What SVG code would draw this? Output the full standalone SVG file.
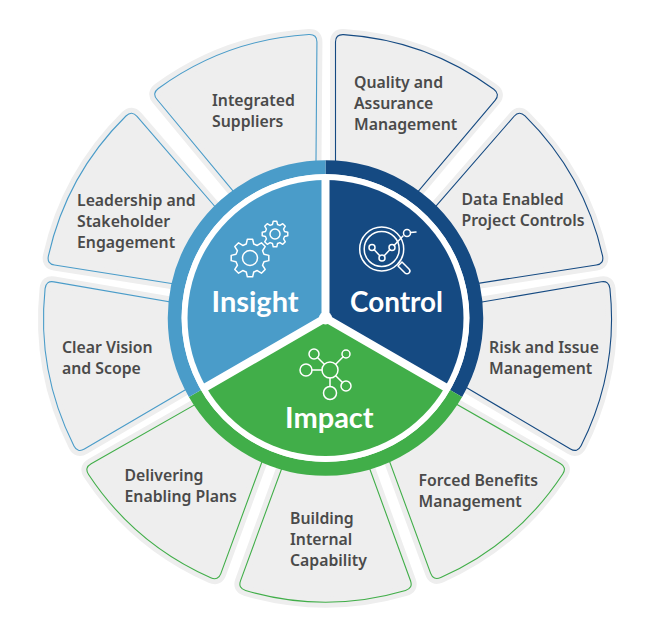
<svg xmlns="http://www.w3.org/2000/svg" xmlns:xlink="http://www.w3.org/1999/xlink" width="650" height="639" viewBox="0 0 650 639">
<style>
.halo{fill:#eeeeee;stroke:#eeeeee;stroke-width:11;stroke-linejoin:round}
.line{fill:none;stroke-width:1.1}
.b{stroke:#4a9cc9}.n{stroke:#154a82}.g{stroke:#41ae49}
text{font-family:"Lato","Noto Sans",sans-serif}
.t{font-family:"Noto Sans",sans-serif;font-size:15.8px;font-weight:600;fill:#4a4a4a}
.c{font-size:29px;font-weight:700;fill:#ffffff}
.i{fill:none;stroke:#ffffff;stroke-width:1.5;stroke-linecap:round;stroke-linejoin:round}
.d{stroke:#ffffff;stroke-width:8;fill:none}
</style>
<defs>
<path id="p" d="M10,-140 L10,-276 Q10,-283.8 18,-283.4 A284,284 0 0 1 168.3,-228.7 Q174.8,-223.8 169.6,-217.7 L81.1,-112.8 Z"/>
<path id="gear" d="M14,-3.75 18.8,-2.64 18.8,2.64 14,3.75 12.56,7.25 15.17,11.43 11.43,15.17 7.25,12.56 3.75,14 2.64,18.8 -2.64,18.8 -3.75,14 -7.25,12.56 -11.43,15.17 -15.17,11.43 -12.56,7.25 -14,3.75 -18.8,2.64 -18.8,-2.64 -14,-3.75 -12.56,-7.25 -15.17,-11.43 -11.43,-15.17 -7.25,-12.56 -3.75,-14 -2.64,-18.8 2.64,-18.8 3.75,-14 7.25,-12.56 11.43,-15.17 15.17,-11.43 12.56,-7.25 Z"/>
</defs>
<rect width="650" height="639" fill="#ffffff"/>
<g id="node-quality"><use href="#p" class="halo" transform="translate(325.5 318)"/><use href="#p" class="line n" transform="translate(325.5 318)"/><text class="t"><tspan x="354" y="88">Quality and</tspan><tspan x="354" y="109">Assurance</tspan><tspan x="354" y="130">Management</tspan></text></g>
<g id="node-data"><use href="#p" class="halo" transform="translate(325.5 318) rotate(41)"/><use href="#p" class="line n" transform="translate(325.5 318) rotate(41)"/><text class="t"><tspan x="461.5" y="205">Data Enabled</tspan><tspan x="461.5" y="226">Project Controls</tspan></text></g>
<g id="node-risk"><use href="#p" class="halo" transform="translate(327.5 318) rotate(80.4)"/><use href="#p" class="line n" transform="translate(327.5 318) rotate(80.4)"/><text class="t"><tspan x="489" y="353">Risk and Issue</tspan><tspan x="489" y="374">Management</tspan></text></g>
<g id="node-forced"><use href="#p" class="halo" transform="translate(325.5 318) rotate(119.7)"/><use href="#p" class="line g" transform="translate(325.5 318) rotate(119.7)"/><text class="t"><tspan x="418.5" y="486">Forced Benefits</tspan><tspan x="418.5" y="507">Management</tspan></text></g>
<g id="node-building"><use href="#p" class="halo" transform="translate(325.5 318) rotate(160)"/><use href="#p" class="line g" transform="translate(325.5 318) rotate(160)"/><text class="t"><tspan x="290" y="524">Building</tspan><tspan x="290" y="545">Internal</tspan><tspan x="290" y="566">Capability</tspan></text></g>
<g id="node-delivering"><use href="#p" class="halo" transform="translate(325.5 318) rotate(200.2)"/><use href="#p" class="line g" transform="translate(325.5 318) rotate(200.2)"/><text class="t"><tspan x="124.5" y="481">Delivering</tspan><tspan x="124.5" y="502">Enabling Plans</tspan></text></g>
<g id="node-clear"><use href="#p" class="halo" transform="translate(327.5 318) rotate(239.6)"/><use href="#p" class="line b" transform="translate(327.5 318) rotate(239.6)"/><text class="t"><tspan x="62" y="353">Clear Vision</tspan><tspan x="62" y="374">and Scope</tspan></text></g>
<g id="node-leadership"><use href="#p" class="halo" transform="translate(325.5 318) rotate(279)"/><use href="#p" class="line b" transform="translate(325.5 318) rotate(279)"/><text class="t"><tspan x="77" y="206">Leadership and</tspan><tspan x="77" y="227">Stakeholder</tspan><tspan x="77" y="248">Engagement</tspan></text></g>
<g id="node-integrated"><use href="#p" class="halo" transform="translate(325.5 318) rotate(320.3)"/><use href="#p" class="line b" transform="translate(325.5 318) rotate(320.3)"/><text class="t"><tspan x="212" y="106">Integrated</tspan><tspan x="212" y="127">Suppliers</tspan></text></g>
<g id="connectors"></g>
<g id="hub" transform="translate(325.5 318)">
<circle r="150" fill="#ffffff"/>
<g fill="none" stroke-width="14">
<path d="M0,-150.75 A150.75,150.75 0 0 1 130.55,75.4" stroke="#154a82"/>
<path d="M130.55,75.4 A150.75,150.75 0 0 1 -130.55,75.4" stroke="#41ae49"/>
<path d="M-130.55,75.4 A150.75,150.75 0 0 1 0,-150.75" stroke="#4a9cc9"/>
</g>
<circle r="144" fill="#ffffff"/>
</g>
<g id="node-insight">
<path transform="translate(325.5 318)" d="M0,0 L-119.5,69 A138,138 0 0 1 0,-138 Z" fill="#4a9cc9"/>
<use href="#gear" class="i" transform="translate(250 258)"/><circle class="i" cx="250" cy="258" r="7.5"/>
<use href="#gear" class="i" style="stroke-width:2.1" transform="translate(275 234) scale(.68)"/><circle class="i" cx="275" cy="234" r="5"/>
<text class="c" x="211.5" y="312">Insight</text>
</g>
<g id="node-control">
<path transform="translate(325.5 318)" d="M0,0 L0,-138 A138,138 0 0 1 119.5,69 Z" fill="#154a82"/>
<circle class="i" cx="381.7" cy="249" r="22"/><circle class="i" cx="381.7" cy="249" r="17.5"/>
<path class="i" d="M374,249.5 379.8,255.8 M384.2,255.8 390,249.5 M394,245.5 403,236 M410.5,232.6 L416,232"/>
<circle class="i" cx="372" cy="247.5" r="3"/><circle class="i" cx="382" cy="258" r="3"/><circle class="i" cx="392" cy="247.5" r="3"/><circle class="i" cx="407" cy="233" r="3.5"/>
<path class="i" d="M398,266 L402,262 L409,269 A2.8,2.8 0 0 1 405,273 Z"/>
<text class="c" x="350" y="312" textLength="93" lengthAdjust="spacingAndGlyphs">Control</text>
</g>
<g id="node-impact">
<path transform="translate(325.5 318)" d="M0,0 L119.5,69 A138,138 0 0 1 -119.5,69 Z" fill="#41ae49"/>
<g class="i"><circle cx="330" cy="370" r="8"/><circle cx="314" cy="354" r="5"/><circle cx="346" cy="354" r="4"/><circle cx="306" cy="370" r="6"/><circle cx="346" cy="386" r="5"/><circle cx="330" cy="393" r="6.5"/>
<path d="M317.5,357.5 324.3,364.3 M343.2,356.8 335.7,364.3 M312,370 322,370 M335.7,375.7 342.5,382.5 M330,378 330,386.5"/></g>
<text class="c" x="285" y="428">Impact</text>
</g>
<g id="dividers" transform="translate(325.5 318)">
<path class="d" d="M0,0 L0,-141 M0,0 L122.1,70.5 M0,0 L-122.1,70.5"/>
<circle r="6.5" fill="#ffffff"/>
</g>
</svg>
